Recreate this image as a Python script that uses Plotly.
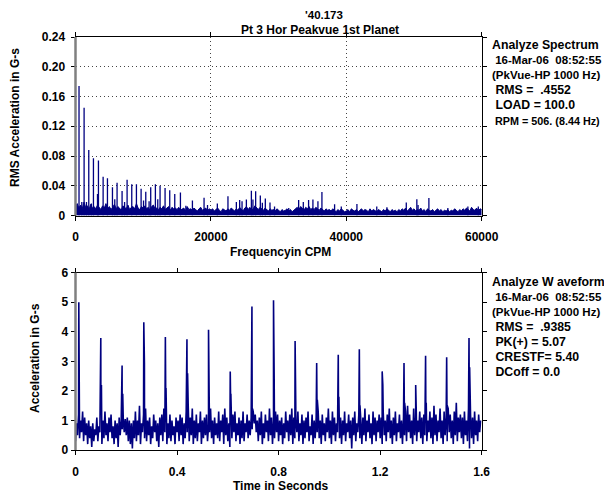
import plotly.graph_objects as go

W, H = 604, 488   # page body has an 8px margin
OFF = 8
NAVY = "#000080"
FONT = "Liberation Sans"

# ---------------- Spectrum data ----------------
spec_bin_cpm = 250
spec_floor = [
    .012, .016, .010, .014, .009, .018, .011, .013, .008, .015,
    .010, .012, .009, .014, .011, .008, .013, .010, .016, .009,
    .012, .008, .011, .015, .009, .012, .010, .007, .013, .011,
    .009, .014, .008, .011, .012, .009, .016, .010, .008, .012,
    .010, .013, .009, .011, .007, .012, .014, .009, .010, .008,
    .011, .009, .013, .008, .010, .012, .007, .011, .009, .010,
    .008, .011, .007, .009, .010, .006, .012, .008, .009, .007,
    .010, .008, .006, .009, .011, .007, .008, .010, .006, .009,
    .007, .009, .006, .008, .010, .007, .005, .009, .008, .006,
    .009, .007, .010, .008, .006, .009, .007, .011, .008, .006,
    .010, .012, .008, .011, .007, .009, .013, .010, .008, .011,
    .009, .007, .010, .008, .006, .009, .007, .008, .006, .009,
    .007, .005, .008, .006, .007, .009, .006, .008, .005, .007,
    .009, .011, .008, .012, .010, .007, .011, .009, .012, .008,
    .010, .008, .011, .009, .007, .010, .008, .006, .009, .007,
    .008, .006, .009, .007, .005, .008, .006, .009, .007, .005,
    .006, .008, .005, .009, .007, .006, .008, .005, .007, .009,
    .006, .008, .007, .005, .009, .006, .008, .007, .005, .008,
    .007, .005, .008, .006, .009, .007, .005, .008, .006, .007,
    .005, .008, .006, .009, .007, .010, .006, .008, .011, .007,
    .009, .006, .008, .007, .010, .006, .008, .005, .009, .007,
    .006, .008, .005, .007, .009, .006, .008, .005, .007, .006,
    .008, .005, .007, .006, .009, .007, .005, .008, .006, .009,
    .007, .010, .008, .006, .011, .008, .007, .010, .006, .009, .008,
]
spec_peak_cpm = [
    520, 930, 1270, 1620, 1960, 2350, 2650, 3250, 3390, 4080, 4720, 5460, 5800,
    6140, 6880, 7250, 7620, 8310, 9000, 9690, 10050, 10380, 10870, 11110, 11800,
    12150, 12490, 13230, 13920, 14660, 15500, 16300, 17270, 18990, 19500,
    20950, 22520, 23760, 24250, 24600, 25240, 25980, 26210, 26610, 27300, 27600,
    28040, 28730, 29400, 31500, 32960, 33650, 34430, 35070, 35810, 36400, 38270,
    39260, 41570, 44500, 46000, 48860, 50420, 50600, 52200, 55000, 57960, 59500,
]
spec_peak_amp = [
    .174, .018, .145, .018, .088, .016, .077, .029, .074, .052, .050, .038, .022,
    .044, .033, .018, .048, .042, .042, .036, .020, .032, .019, .038, .042,
    .022, .040, .037, .034, .029, .031, .013, .020, .024, .014,
    .016, .026, .018, .021, .019, .0215, .0334, .0215, .0325, .027, .017,
    .023, .0174, .012, .010, .021, .018, .021, .0215, .019, .0316, .015,
    .012, .0156, .012, .011, .0174, .022, .014, .0236, .010, .012, .012,
]
spec_xticks = [0, 20000, 40000, 60000]
spec_xticktext = ["0", "20000", "40000", "60000"]
spec_yticks = [0, 0.04, 0.08, 0.12, 0.16, 0.20, 0.24]
spec_yticktext = ["0", "0.04", "0.08", "0.12", "0.16", "0.20", "0.24"]

# ---------------- Waveform data ----------------
wave_dt = 0.004
wave_base = [
    .3, .9, .5, 1.2, .4, 1.0, .6, 1.3, .3, 1.1, .5, .9, .2, 1.0, .4, .8, .1, .9, .3, .7,
    .5, 1.1, .3, .8, .6, 1.2, .2, 1.0, .4, 1.3, .5, .9, .3, 1.1, .6, 1.2, .4, .8, .2, 1.0,
    .4, .9, .1, 1.1, .5, 1.0, .7, 1.1, .6, 1.05, .5, 1.1, .3, 1.0, .2, .9, .05, 1.0, .4, 1.3,
    .3, 1.0, .5, 1.5, .2, .9, .6, 1.2, .4, 1.4, .3, 1.0, .5, 1.1, .2, .8, .4, 1.2, .6, 1.0,
    .3, .9, .1, 1.1, .5, 1.2, .3, 1.4, .6, 1.0, .2, .9, .4, 1.2, .3, 1.0, .5, .8, .2, 1.1,
    .6, 1.0, .3, 1.2, .5, 1.1, .2, .9, .4, 1.3, .6, 1.5, .3, 1.1, .5, 1.4, .2, 1.0, .4, 1.2,
    .3, .9, .6, 1.3, .2, 1.0, .4, 1.1, .5, 1.2, .3, .8, .6, 1.4, .4, 1.0, .2, 1.1, .5, .9,
    .4, 1.3, .3, 1.0, .6, 1.2, .2, 1.4, .5, 1.1, .3, .9, .1, 1.0, .4, 1.2, .6, 1.3, .3, .9,
    .5, 1.1, .2, 1.0, .4, 1.3, .3, .9, .6, 1.2, .4, 1.0, .5, 1.1, .7, 1.3, .9, 1.2, .6, 1.0,
    .3, 1.1, .5, 1.3, .2, .9, .4, 1.2, .6, 1.0, .3, 1.4, .5, 1.1, .2, 1.0, .4, 1.3, .6, 1.2,
    .3, 1.0, .5, 1.1, .2, .9, .4, 1.3, .6, 1.0, .3, 1.2, .5, 1.4, .2, 1.1, .4, 1.0, .6, 1.3,
    .3, .9, .5, 1.2, .2, 1.0, .4, 1.1, .6, 1.3, .3, .8, .5, 1.2, .2, 1.0, .4, 1.1, .6, 1.3,
    .4, 1.0, .2, 1.2, .5, .9, .3, 1.1, .6, 1.4, .4, 1.0, .2, 1.3, .5, 1.1, .3, .9, .6, 1.2,
    .4, 1.1, .2, 1.0, .5, 1.3, .3, .9, .6, 1.2, .4, 1.0, .05, 1.1, .5, 1.3, .3, .9, .6, 1.2,
    .4, 1.0, .2, 1.1, .5, 1.4, .3, 1.0, .6, 1.2, .4, .9, .2, 1.3, .5, 1.1, .3, 1.0, .6, 1.2,
    .4, 1.1, .2, 1.3, .5, 1.0, .3, 1.2, .6, 1.4, .4, 1.0, .2, 1.1, .5, 1.3, .3, .9, .6, 1.2,
    .4, 1.0, .2, 1.1, .5, 1.3, .3, 1.5, .6, 1.2, .4, 1.0, .2, 1.4, .5, 1.1, .3, 1.0, .6, 1.3,
    .4, 1.1, .2, 1.2, .5, 1.4, .3, 1.0, .6, 1.3, .4, 1.1, .2, 1.5, .5, 1.2, .3, 1.0, .6, 1.4,
    .4, 1.0, .2, 1.3, .5, 1.1, .3, 1.4, .6, 1.2, .4, 1.0, .2, 1.3, .5, 1.6, .3, 1.1, .6, 1.2,
    .4, 1.1, .2, 1.3, .5, 1.0, .3, 1.4, .05, 1.2, .4, 1.1, .2, 1.3, .5, 1.0, .3, 1.2, .6, 1.0,
]
wave_peak_t = [0.013, 0.0996, 0.1835, 0.269, 0.354, 0.439, 0.524, 0.6095, 0.695, 0.780,
               0.865, 0.950, 1.035, 1.118, 1.208, 1.294, 1.340, 1.379, 1.462, 1.550]
wave_peak_v = [5.0, 3.79, 2.86, 4.32, 3.82, 3.75, 4.07, 2.66, 4.86, 5.07,
               3.69, 2.94, 3.22, 3.41, 2.66, 2.94, 2.2, 3.19, 3.14, 3.79]
wave_after_v = [2.05, 2.2, 1.9, 2.94, 2.1, 2.6, 1.8, 1.9, 1.4, 2.5,
                1.6, 1.7, 1.8, 1.5, 2.2, 1.6, 1.2, 1.6, 1.5, 2.8]
wave_xticks = [0, 0.4, 0.8, 1.2, 1.6]
wave_xticktext = ["0", "0.4", "0.8", "1.2", "1.6"]
wave_yticks = [0, 1, 2, 3, 4, 5, 6]

# ---------------- Build traces ----------------
floor_x = [i * spec_bin_cpm for i in range(len(spec_floor))]
pk_x, pk_y = [], []
for c, a in zip(spec_peak_cpm, spec_peak_amp):
    pk_x += [c, c, None]
    pk_y += [0, a, None]

pts = [(i * wave_dt, v) for i, v in enumerate(wave_base)]
for t, v, a in zip(wave_peak_t, wave_peak_v, wave_after_v):
    pts.append((t, v))
    pts.append((t + 0.0025, a))
pts.sort(key=lambda p: p[0])
wx = [p[0] for p in pts]
wy = [p[1] for p in pts]

fig = go.Figure()
fig.add_trace(go.Scatter(x=floor_x, y=spec_floor, mode="lines", fill="tozeroy",
                         fillcolor=NAVY, line=dict(color=NAVY, width=1),
                         xaxis="x", yaxis="y", hoverinfo="skip"))
fig.add_trace(go.Scatter(x=pk_x, y=pk_y, mode="lines",
                         line=dict(color=NAVY, width=1.3),
                         xaxis="x", yaxis="y", hoverinfo="skip"))
fig.add_trace(go.Scatter(x=wx, y=wy, mode="lines",
                         line=dict(color=NAVY, width=1.6),
                         xaxis="x2", yaxis="y2", hoverinfo="skip"))


def px(x):
    return (x - OFF) / W


def py(y):
    return 1 - (y - OFF) / H


tickfont = dict(family=FONT, size=12, color="black", weight="bold")
common_axis = dict(showline=True, linecolor="black", linewidth=1, mirror="allticks",
                   ticks="outside", ticklen=4, tickcolor="black", tickwidth=1,
                   zeroline=False, tickfont=tickfont, fixedrange=True,
                   automargin=False)

L, R = 75.5, 481.7
GRID = dict(showgrid=True, gridcolor="#444444", griddash="1px,3px", gridwidth=1)
fig.update_layout(
    width=W, height=H,
    margin=dict(l=0, r=0, t=0, b=0),
    paper_bgcolor="white", plot_bgcolor="white",
    showlegend=False,
    xaxis=dict(domain=[px(L), px(R)], anchor="y", range=[0, 60000],
               tickvals=spec_xticks, ticktext=spec_xticktext,
               ticklabelstandoff=6, **GRID, **common_axis),
    yaxis=dict(domain=[py(215.5), py(37)], anchor="x", range=[0, 0.24],
               tickvals=spec_yticks, ticktext=spec_yticktext,
               ticklabelstandoff=3, **GRID, **common_axis),
    xaxis2=dict(domain=[px(L), px(R)], anchor="y2", range=[0, 1.6],
                tickvals=wave_xticks, ticktext=wave_xticktext,
                showgrid=False, ticklabelstandoff=7, **common_axis),
    yaxis2=dict(domain=[py(450), py(272.7)], anchor="x2", range=[0, 6],
                tickvals=wave_yticks, showgrid=False, ticklabelstandoff=0,
                **common_axis),
)

# gray heavy left axis lines
for y0, y1 in [(37, 215.5), (272.7, 450)]:
    fig.add_shape(type="line", xref="paper", yref="paper",
                  x0=px(L), x1=px(L), y0=py(y0), y1=py(y1),
                  line=dict(color="#808080", width=2.5), layer="above")


def text(s, x, y, xanchor="left", angle=0, size=12, yanchor="middle"):
    fig.add_annotation(text=s, x=px(x), y=py(y), xref="paper", yref="paper",
                       xanchor=xanchor, yanchor=yanchor, showarrow=False,
                       textangle=angle, borderpad=0,
                       font=dict(family=FONT, size=size, color="black", weight="bold"))


text("'40.173", 304, 8.2, yanchor="top", size=11.5)
text("Pt 3 Hor Peakvue 1st Planet", 320, 29.5, xanchor="center")
text("RMS Acceleration in G-s", 15, 118, xanchor="center", angle=-90)
text("Frequencyin CPM", 280, 252, xanchor="center")
text("Acceleration in G-s", 35, 358, xanchor="center", angle=-90)
text("Time in Seconds", 280, 486, xanchor="center")

spec_info = ["Analyze Spectrum", " 16-Mar-06  08:52:55", "(PkVue-HP 1000 Hz)",
             " RMS =  .4552", " LOAD = 100.0", " RPM = 506. (8.44 Hz)"]
wave_info = ["Analyze W aveform", " 16-Mar-06  08:52:55", "(PkVue-HP 1000 Hz)",
             " RMS =  .9385", " PK(+) = 5.07", " CRESTF= 5.40", " DCoff = 0.0"]


def info(lines, y0):
    for i, s in enumerate(lines):
        n = len(s)
        sz = 10.8 if n > 20 else (11.5 if n >= 18 else 12.3)
        text(s.replace(" ", "&nbsp;"), 491, y0 + 15.1 * i, size=sz)


info(spec_info, 45)
info(wave_info, 281.7)

fig.write_html("out.html")
